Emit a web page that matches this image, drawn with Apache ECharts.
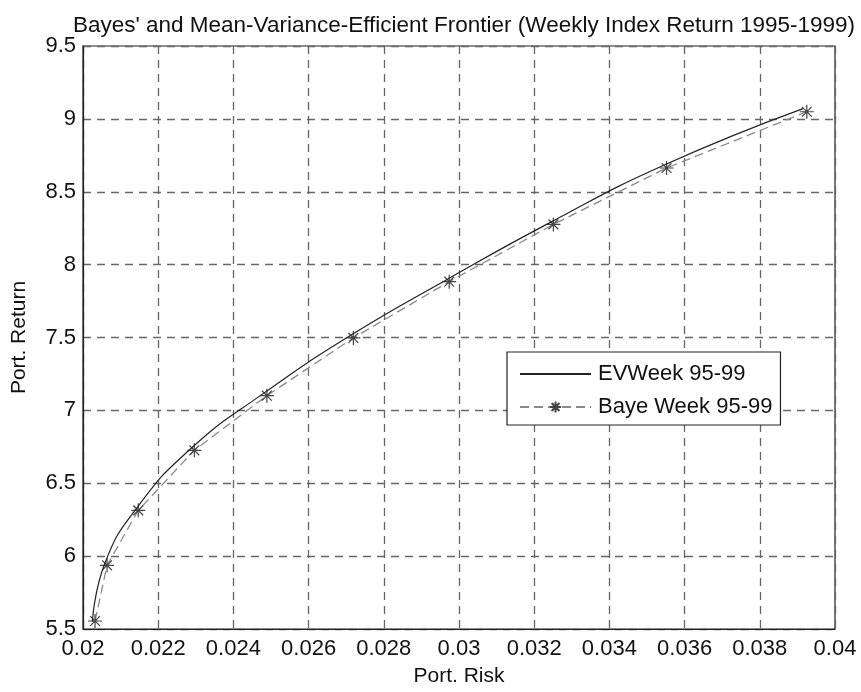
<!DOCTYPE html>
<html>
<head>
<meta charset="utf-8">
<script src="https://cdn.jsdelivr.net/npm/echarts@6/dist/echarts.min.js"></script>
<style>html,body{margin:0;padding:0;background:#fff;}#c{width:861px;height:692px;}</style>
</head>
<body>
<div id="c"></div>
<script>
var titleText = "Bayes' and Mean-Variance-Efficient Frontier (Weekly Index Return 1995-1999)";
var xTicks = [0.02, 0.022, 0.024, 0.026, 0.028, 0.03, 0.032, 0.034, 0.036, 0.038, 0.04];
var yTicks = [5.5, 6, 6.5, 7, 7.5, 8, 8.5, 9, 9.5];
var riskEV = [0.02025, 0.02058, 0.02143, 0.02288, 0.02482, 0.02712, 0.02966, 0.03243, 0.03543, 0.03915];
var retEV  = [5.55, 5.95, 6.33, 6.74, 7.12, 7.515, 7.895, 8.29, 8.68, 9.07];
var riskBaye = [0.02032, 0.02064, 0.02147, 0.02296, 0.02489, 0.02719, 0.02974, 0.03251, 0.03552, 0.03925];
var retBaye  = [5.555, 5.937, 6.314, 6.726, 7.101, 7.497, 7.883, 8.276, 8.663, 9.049];

function pairs(a, b) { return a.map(function (v, i) { return [v, b[i]]; }); }
var star = 'path://M0 5 L10 5 M5 0 L5 10 M1.5 1.5 L8.5 8.5 M8.5 1.5 L1.5 8.5';
var font = 'Liberation Sans, Arial, sans-serif';

var chart = echarts.init(document.getElementById('c'), null, {renderer: 'canvas'});
chart.setOption({
  animation: false,
  backgroundColor: '#fff',
  title: {
    text: titleText, left: 459, top: 9, textAlign: 'center',
    textStyle: {fontFamily: font, fontSize: 22.5, fontWeight: 'normal', color: '#111'}
  },
  grid: {left: 83, right: 26, top: 46, bottom: 60, show: true, borderColor: '#222', borderWidth: 1.2, backgroundColor: 'transparent'},
  legend: {
    left: 507, top: 352, orient: 'vertical',
    backgroundColor: '#fff', borderColor: '#222', borderWidth: 1.2,
    padding: [11, 8, 7, 12], itemGap: 11, itemWidth: 71, itemHeight: 14,
    textStyle: {fontFamily: font, fontSize: 22, color: '#111', padding: [0, 0, 0, 2]},
    data: [
      {name: 'EVWeek 95-99', itemStyle: {opacity: 0}},
      {name: 'Baye Week 95-99'}
    ]
  },
  xAxis: {
    type: 'value', min: 0.02, max: 0.04, interval: 0.002,
    name: 'Port. Risk', nameLocation: 'middle', nameGap: 37,
    nameTextStyle: {fontFamily: font, fontSize: 21, color: '#111'},
    axisLine: {show: true, lineStyle: {color: '#222', width: 1.2}},
    axisTick: {show: false},
    axisLabel: {fontFamily: font, fontSize: 22, color: '#111', margin: 9,
      formatter: function (v) { return String(+v.toFixed(4)); }},
    splitLine: {show: true, lineStyle: {color: '#666', width: 1.3, type: [8, 6]}}
  },
  yAxis: {
    type: 'value', min: 5.5, max: 9.5, interval: 0.5,
    name: 'Port. Return', nameLocation: 'middle', nameGap: 53, nameRotate: 90,
    nameTextStyle: {fontFamily: font, fontSize: 21, color: '#111'},
    axisLine: {show: true, lineStyle: {color: '#222', width: 1.2}},
    axisTick: {show: false},
    axisLabel: {fontFamily: font, fontSize: 22, color: '#111', margin: 7,
      formatter: function (v) { return String(+v.toFixed(2)); }},
    splitLine: {show: true, lineStyle: {color: '#666', width: 1.3, type: [8, 6]}}
  },
  series: [
    {
      name: 'Baye Week 95-99', type: 'line', data: pairs(riskBaye, retBaye),
      smooth: false, symbol: star, symbolSize: 14, showSymbol: true,
      lineStyle: {color: '#8a8a8a', width: 1.3, type: [9, 5]},
      itemStyle: {color: 'none', borderColor: '#444', borderWidth: 1.2},
      z: 3
    },
    {
      name: 'EVWeek 95-99', type: 'line', data: pairs(riskEV, retEV),
      smooth: true, symbol: 'none',
      lineStyle: {color: '#222', width: 1.2},
      itemStyle: {color: '#222'},
      z: 4
    }
  ]
});
</script>
</body>
</html>
